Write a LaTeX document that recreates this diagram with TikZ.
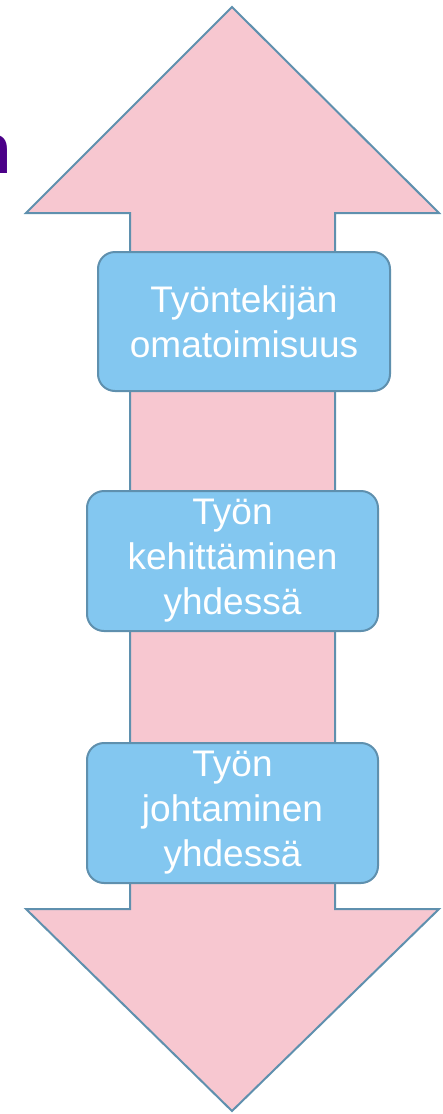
\documentclass[tikz,border=0pt]{standalone}
\usepackage{fontspec}
\setmainfont{Liberation Sans}
\definecolor{arrowfill}{HTML}{F7C7D0}
\definecolor{edgeblue}{HTML}{5F90AE}
\definecolor{boxfill}{HTML}{83C7F0}
\definecolor{titlepurple}{HTML}{4B0088}
\tikzset{
  stagebox/.style={draw=edgeblue, fill=boxfill, line width=2pt, rounded corners=17pt,
    text=white, align=center, inner sep=0pt,
    font=\fontsize{37}{45}\selectfont},
  bigarrow/.style={draw=edgeblue, fill=arrowfill, line width=2pt, line join=miter}
}
\begin{document}
\begin{tikzpicture}[x=1pt,y=-1pt]
\useasboundingbox (0,0) rectangle (442,1114);
\clip (0,0) rectangle (442,1114);
\fill[white] (0,0) rectangle (442,1114);
\node[anchor=base east, inner sep=0pt, text=titlepurple, font=\bfseries\fontsize{71}{71}\selectfont] (ttl) at (12,173) {n};
\draw[bigarrow] (232,7) -- (439,213) -- (335,213) -- (335,909) -- (439,909) -- (232,1111)
  -- (26,909) -- (130,909) -- (130,213) -- (26,213) -- cycle;
\node[stagebox, minimum width=292pt, minimum height=139pt] (b1) at (244,321.5) {Työntekijän\\omatoimisuus};
\node[stagebox, minimum width=291pt, minimum height=140pt] (b2) at (232.5,561) {Työn\\kehittäminen\\yhdessä};
\node[stagebox, minimum width=291pt, minimum height=140pt] (b3) at (232.5,813) {Työn\\johtaminen\\yhdessä};
\end{tikzpicture}
\end{document}
